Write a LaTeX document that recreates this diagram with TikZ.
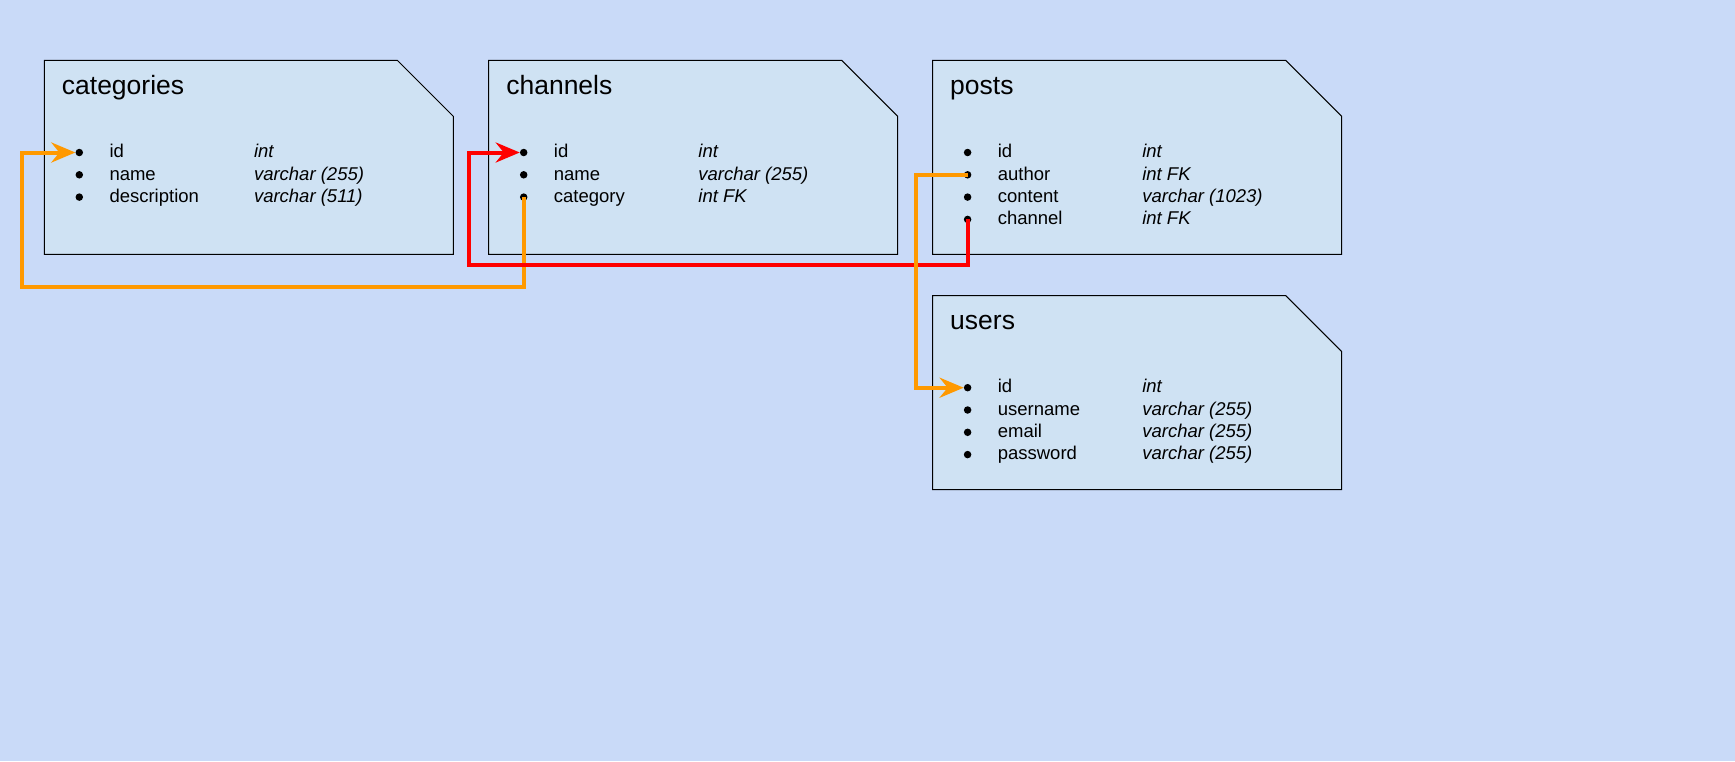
\documentclass[tikz,border=0pt]{standalone}
\usepackage{fontspec}
\setmainfont{Liberation Sans}
\usetikzlibrary{arrows.meta}
\definecolor{bgblue}{HTML}{C9DAF8}
\definecolor{boxblue}{HTML}{CFE2F3}
\definecolor{fkorange}{HTML}{FF9900}
\definecolor{fkred}{HTML}{FF0000}
\begin{document}
\begin{tikzpicture}[x=1pt,y=-1pt,
  tbl/.style={draw=black, line width=1pt, fill=boxblue},
  ttitle/.style={anchor=base west, inner sep=0pt, font=\fontsize{26.5}{30}\selectfont},
  fname/.style={anchor=base west, inner sep=0pt, font=\fontsize{18.5}{22}\selectfont},
  ftype/.style={anchor=base west, inner sep=0pt, font=\fontsize{18.5}{22}\selectfont\itshape},
  bul/.style={circle, fill=black, inner sep=0pt, minimum size=7.5pt},
  fk/.style={line width=4pt, -{Stealth[length=24pt,width=20pt,inset=8pt]}},
]
\fill[bgblue] (0,0) rectangle (1735,761);
\useasboundingbox (0,0) rectangle (1735,761);

% categories
\begin{scope}[shift={(44.3,60.3)}]
  \draw[tbl] (0,0) -- (353,0) -- (409,56) -- (409,194) -- (0,194) -- cycle;
  \node[ttitle] (cat-t) at (17.4,33.7) {categories};
  \node[bul] (cat-id) at (35,92.2) {};
  \node[fname] (cat-id-n) at (65,97.4) {id};
  \node[ftype] (cat-id-t) at (209.5,97.4) {int};
  \node[bul] (cat-nm) at (35,114.5) {};
  \node[fname] (cat-nm-n) at (65,119.7) {name};
  \node[ftype] (cat-nm-t) at (209.5,119.7) {varchar (255)};
  \node[bul] (cat-ds) at (35,136.8) {};
  \node[fname] (cat-ds-n) at (65,142) {description};
  \node[ftype] (cat-ds-t) at (209.5,142) {varchar (511)};
\end{scope}

% channels
\begin{scope}[shift={(488.7,60.3)}]
  \draw[tbl] (0,0) -- (353,0) -- (409,56) -- (409,194) -- (0,194) -- cycle;
  \node[ttitle] (ch-t) at (17.4,33.7) {channels};
  \node[bul] (ch-id) at (35,92.2) {};
  \node[fname] (ch-id-n) at (65,97.4) {id};
  \node[ftype] (ch-id-t) at (209.5,97.4) {int};
  \node[bul] (ch-nm) at (35,114.5) {};
  \node[fname] (ch-nm-n) at (65,119.7) {name};
  \node[ftype] (ch-nm-t) at (209.5,119.7) {varchar (255)};
  \node[bul] (ch-cat) at (35,136.8) {};
  \node[fname] (ch-cat-n) at (65,142) {category};
  \node[ftype] (ch-cat-t) at (209.5,142) {int FK};
\end{scope}

% posts
\begin{scope}[shift={(932.6,60.3)}]
  \draw[tbl] (0,0) -- (353,0) -- (409,56) -- (409,194) -- (0,194) -- cycle;
  \node[ttitle] (po-t) at (17.4,33.7) {posts};
  \node[bul] (po-id) at (35,92.2) {};
  \node[fname] (po-id-n) at (65,97.4) {id};
  \node[ftype] (po-id-t) at (209.5,97.4) {int};
  \node[bul] (po-au) at (35,114.5) {};
  \node[fname] (po-au-n) at (65,119.7) {author};
  \node[ftype] (po-au-t) at (209.5,119.7) {int FK};
  \node[bul] (po-co) at (35,136.8) {};
  \node[fname] (po-co-n) at (65,142) {content};
  \node[ftype] (po-co-t) at (209.5,142) {varchar (1023)};
  \node[bul] (po-ch) at (35,159.1) {};
  \node[fname] (po-ch-n) at (65,164.3) {channel};
  \node[ftype] (po-ch-t) at (209.5,164.3) {int FK};
\end{scope}

% users
\begin{scope}[shift={(932.6,295.5)}]
  \draw[tbl] (0,0) -- (353,0) -- (409,56) -- (409,194) -- (0,194) -- cycle;
  \node[ttitle] (us-t) at (17.4,33.7) {users};
  \node[bul] (us-id) at (35,92.2) {};
  \node[fname] (us-id-n) at (65,97.4) {id};
  \node[ftype] (us-id-t) at (209.5,97.4) {int};
  \node[bul] (us-un) at (35,114.5) {};
  \node[fname] (us-un-n) at (65,119.7) {username};
  \node[ftype] (us-un-t) at (209.5,119.7) {varchar (255)};
  \node[bul] (us-em) at (35,136.8) {};
  \node[fname] (us-em-n) at (65,142) {email};
  \node[ftype] (us-em-t) at (209.5,142) {varchar (255)};
  \node[bul] (us-pw) at (35,159.1) {};
  \node[fname] (us-pw-n) at (65,164.3) {password};
  \node[ftype] (us-pw-t) at (209.5,164.3) {varchar (255)};
\end{scope}

% connectors
\coordinate (b1) at (22,287);
\coordinate (b2) at (469.3,265);
\coordinate (b3) at (916.4,387.7);
\draw[fk, fkorange] (ch-cat.center) |- (b1) |- (cat-id.west);
\draw[fk, fkred] (po-ch.center) |- (b2) |- (ch-id.west);
\draw[fk, fkorange] (po-au.center) -| (b3) -- (us-id.west);
\end{tikzpicture}
\end{document}
